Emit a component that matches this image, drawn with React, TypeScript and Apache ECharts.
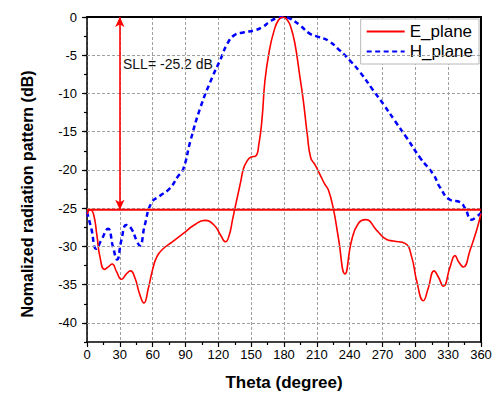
import React, { useEffect, useRef } from "react";
import * as echarts from "echarts";

// ---- data ----
const eTheta = [0, 3, 6, 9, 12, 16, 20, 23, 27, 31.4, 36, 39.7, 44, 48, 52, 56, 60, 64, 69.6, 78, 88, 98, 107.7, 116, 122, 126.6, 130, 133, 135.2, 140.5, 143, 146, 150, 154, 157, 160, 162.6, 166.6, 171, 175, 179, 183, 186, 190, 194.6, 197.7, 201.3, 204.4, 208.3, 212.9, 217, 220.5, 225, 229.6, 235.7, 241.8, 247.9, 254.9, 264.7, 273.8, 280, 290.6, 296.7, 301.2, 307.3, 311.9, 317.1, 321, 325.6, 331.7, 336.3, 339.5, 343.9, 350, 356, 360];
const eValues = [-25.8, -25.2, -25.8, -28.5, -31.5, -33.0, -32.6, -32.3, -33.3, -34.3, -33.6, -33.2, -34.2, -36.2, -37.4, -35.5, -33.0, -31.3, -30.3, -29.4, -28.3, -27.2, -26.6, -27.2, -28.5, -29.4, -28.5, -26.5, -25.0, -21.5, -19.8, -18.9, -18.3, -18.2, -16.7, -13.2, -8.3, -4.4, -1.75, -0.4, 0, -0.4, -1.2, -3.5, -7.9, -11.0, -15.4, -18.4, -19.3, -20.6, -21.8, -22.6, -25.0, -28.8, -33.6, -29.2, -27.0, -26.5, -27.9, -29.1, -29.3, -29.6, -31.4, -34.5, -37.1, -35.4, -33.2, -34.0, -35.2, -32.7, -31.2, -32.0, -32.7, -30.5, -27.9, -25.7];

const hTheta = [0, 4, 8.5, 13, 19.2, 23.8, 27.5, 31.4, 36, 40.6, 45.2, 48.2, 52.8, 58.9, 66.5, 75.7, 83.3, 87.9, 94.5, 103.7, 114.4, 122.1, 128.2, 134.4, 143.6, 152.8, 160.4, 166.6, 174.2, 180, 185.5, 194.6, 203.8, 211.4, 220.5, 231.2, 240.3, 249.4, 261.6, 270.8, 281.4, 292.1, 304.3, 316.5, 322.6, 331.7, 340.8, 345.4, 351.5, 356, 360];
const hValues = [-25.5, -27.7, -30.3, -29.2, -27.7, -30.1, -31.7, -29.2, -27.2, -27.7, -29.2, -29.9, -27.2, -24.3, -23.4, -22.4, -20.8, -19.9, -16.2, -11.8, -7.9, -5.5, -3.5, -2.4, -2.0, -1.75, -1.3, -0.66, -0.1, 0, -0.2, -1.1, -2.2, -2.6, -3.1, -4.4, -5.7, -7.2, -9.6, -11.4, -13.6, -15.8, -18.4, -20.6, -22.3, -23.9, -24.2, -25.0, -26.5, -26.1, -25.6];

const sllLevel = -25.2;
const sllTheta = 30;
const sllText = "SLL= -25.2 dB";
const yMajorTicks = [0, -5, -10, -15, -20, -25, -30, -35, -40];
const seriesNames = ["E_plane", "H_plane"];
const xTitle = "Theta (degree)";
const yTitle = "Nomalized radiation pattern (dB)";

const FONT = 'Arial, "Liberation Sans", sans-serif';

export default function App() {
  const ref = useRef<HTMLDivElement>(null);
  useEffect(() => {
    if (!ref.current) return;
    const chart = echarts.init(ref.current, undefined, { renderer: "svg" });
    const gridLine = { color: "#a0a0a0", type: [3, 2] as any, width: 1 };
    chart.setOption({
      animation: false,
      backgroundColor: "#fff",
      textStyle: { fontFamily: FONT },
      grid: { left: 87, right: 17, top: 17, bottom: 56, containLabel: false },
      legend: {
        orient: "vertical",
        right: 19,
        top: 19,
        data: seriesNames,
        itemWidth: 38,
        itemHeight: 14,
        itemGap: 3,
        padding: [4, 6, 4, 5],
        itemStyle: { opacity: 0 },
        backgroundColor: "#fff",
        borderColor: "#b8b8b8",
        borderWidth: 1,
        textStyle: { fontSize: 17, color: "#000", fontFamily: FONT },
      },
      xAxis: [
        {
          type: "value",
          min: 0,
          max: 360,
          interval: 30,
          name: xTitle,
          nameLocation: "middle",
          nameGap: 32,
          nameTextStyle: { fontSize: 17, fontWeight: "bold", color: "#000", fontFamily: FONT },
          axisLine: { show: true, onZero: false, lineStyle: { color: "#000", width: 1.5 } },
          axisTick: { show: true, inside: false, length: 5, lineStyle: { color: "#000", width: 1.2 } },
          minorTick: { show: true, splitNumber: 2, length: 3, lineStyle: { color: "#000", width: 1.2 } },
          axisLabel: { fontSize: 13, color: "#000", margin: 6, fontFamily: FONT },
          splitLine: { show: true, lineStyle: gridLine },
        },
        {
          type: "value",
          position: "top",
          min: 0,
          max: 360,
          axisLine: { show: true, onZero: false, lineStyle: { color: "#000", width: 2 } },
          axisTick: { show: false },
          axisLabel: { show: false },
          splitLine: { show: false },
        },
      ],
      yAxis: [
        {
          type: "value",
          min: -42.5,
          max: 0,
          axisLine: { show: true, onZero: false, lineStyle: { color: "#000", width: 1.5 } },
          axisTick: { show: true, length: 5, customValues: yMajorTicks, lineStyle: { color: "#000", width: 1.2 } },
          axisLabel: { fontSize: 13, color: "#000", margin: 10, customValues: yMajorTicks, fontFamily: FONT },
          splitLine: { show: false },
        },
        {
          type: "value",
          position: "left",
          min: -42.5,
          max: 0,
          interval: 2.5,
          axisLine: { show: false },
          axisTick: { show: true, length: 3, lineStyle: { color: "#000", width: 1.2 } },
          axisLabel: { show: false },
          splitLine: { show: false },
        },
        {
          type: "value",
          position: "right",
          min: -42.5,
          max: 0,
          axisLine: { show: true, onZero: false, lineStyle: { color: "#000", width: 2 } },
          axisTick: { show: false },
          axisLabel: { show: false },
          splitLine: { show: false },
        },
      ],
      series: [
        {
          name: "gridlines",
          type: "line",
          data: [],
          silent: true,
          markLine: {
            silent: true,
            symbol: "none",
            label: { show: false },
            lineStyle: gridLine,
            data: yMajorTicks.filter((v) => v !== 0).map((v) => ({ yAxis: v })),
          },
        },
        {
          name: "H_plane",
          type: "line",
          data: hTheta.map((t, i) => [t, hValues[i]]),
          smooth: 0.5,
          symbol: "none",
          lineStyle: { color: "#0000ff", width: 2.5, type: [5, 3.5] },
          itemStyle: { color: "#0000ff" },
          z: 3,
        },
        {
          name: "E_plane",
          type: "line",
          data: eTheta.map((t, i) => [t, eValues[i]]),
          smooth: 0.5,
          symbol: "none",
          lineStyle: { color: "#ff0000", width: 1.6 },
          itemStyle: { color: "#ff0000" },
          z: 4,
        },
        {
          name: "SLL",
          type: "line",
          data: [
            [0, sllLevel],
            [360, sllLevel],
          ],
          symbol: "none",
          lineStyle: { color: "#ff0000", width: 2 },
          z: 5,
          markLine: {
            silent: true,
            symbol: ["arrow", "arrow"],
            symbolSize: [7, 10],
            label: { show: false },
            lineStyle: { color: "#ff0000", width: 1.6, type: "solid" },
            data: [
              [
                { coord: [sllTheta, sllLevel] },
                { coord: [sllTheta, 0] },
              ],
            ],
          },
        },
      ],
      graphic: [
        {
          type: "text",
          left: 123,
          top: 57,
          style: { text: sllText, fill: "#111", font: `14px ${FONT}` },
        },
        {
          type: "text",
          x: 27,
          y: 194,
          rotation: Math.PI / 2,
          style: {
            text: yTitle,
            fill: "#000",
            font: `bold 16px ${FONT}`,
            align: "center",
            verticalAlign: "middle",
          },
        },
      ],
    });
    return () => chart.dispose();
  }, []);
  return <div ref={ref} style={{ width: 498, height: 398, position: "absolute", left: 0, top: 0 }} />;
}
